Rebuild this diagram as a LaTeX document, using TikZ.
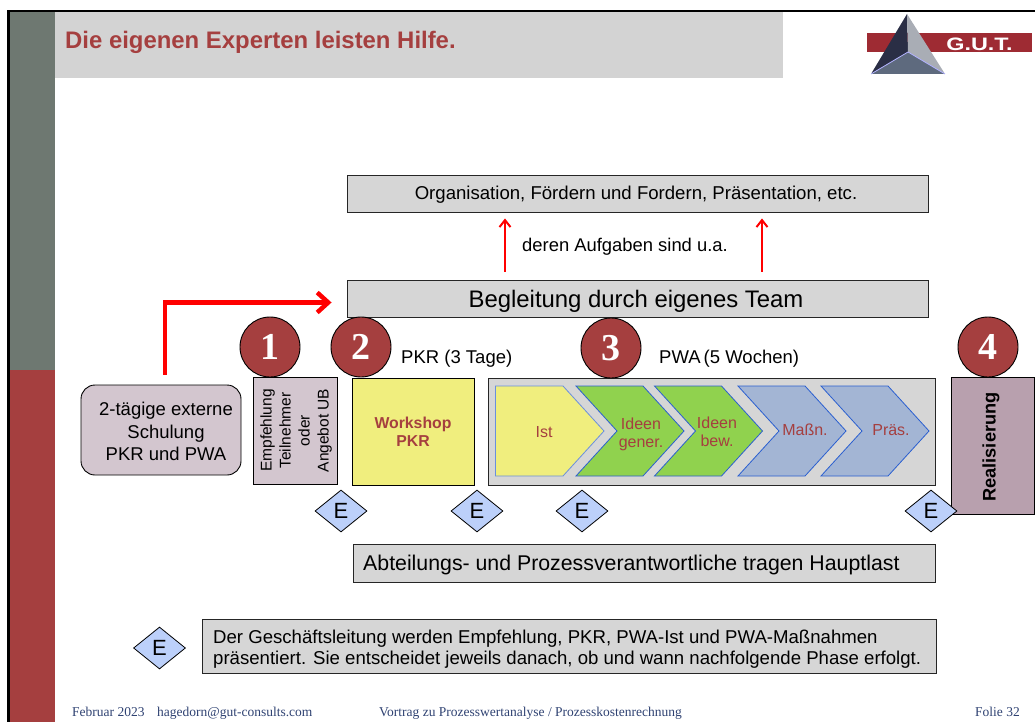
\documentclass[tikz,border=0pt]{standalone}
\usepackage{fontspec}
\setmainfont{Liberation Sans}
\newfontfamily\footfont{Liberation Serif}
\usetikzlibrary{arrows.meta,shapes.geometric}

\definecolor{gutred}{HTML}{A53F3F}
\definecolor{gutgrey}{HTML}{6E7871}
\definecolor{bandgrey}{HTML}{D3D3D3}
\definecolor{boxgrey}{HTML}{D6D6D6}
\definecolor{boxrose}{HTML}{D3C6CF}
\definecolor{boxmauve}{HTML}{B8A0AE}
\definecolor{boxyellow}{HTML}{F0EE7E}
\definecolor{stepgreen}{HTML}{90D24E}
\definecolor{stepblue}{HTML}{A3B5D4}
\definecolor{stepline}{HTML}{2A5FD0}
\definecolor{gateblue}{HTML}{BCD0FA}
\definecolor{footblue}{HTML}{2F4272}
\definecolor{logored}{HTML}{9E2B33}
\definecolor{logodark}{HTML}{2A2E45}
\definecolor{logolight}{HTML}{A9ADB5}
\definecolor{logoslate}{HTML}{5E6A7E}

\newcommand{\fs}[1]{\fontsize{#1}{#1}\selectfont}

\tikzset{
    greybox/.style={draw=black!85, line width=0.9pt, fill=boxgrey, inner sep=0pt},
    gate/.style={diamond, draw=black, line width=0.8pt, fill=gateblue, minimum width=52pt,
        minimum height=42pt, inner sep=0pt, font=\fs{22}},
    numdot/.style={circle, draw=black, line width=0.9pt, fill=gutred, text=white,
        minimum size=60pt, inner sep=0pt, font=\footfont\bfseries\fs{38}},
    steplabel/.style={text=gutred, align=center, font=\fs{16}, inner sep=0pt},
    footer/.style={anchor=base west, text=footblue, inner sep=0pt, font=\footfont\fs{13.5}},
    bigarrow/.style={red, line width=4.5pt, -{Straight Barb[length=11pt,width=20pt]}},
    smallarrow/.style={red, line width=2pt, -{Straight Barb[length=7pt,width=11pt]}},
}

\begin{document}
\begin{tikzpicture}[x=1pt, y=-1pt]
    \useasboundingbox (0,0) rectangle (1035,722);

    % Slide frame
    \fill[gutgrey] (10,12) rectangle (55,370);
    \fill[gutred] (10,370) rectangle (55,722);
    \fill[bandgrey] (55,12.5) rectangle (783,78);
    \draw[black, line width=2.6pt] (8.5,722) -- (8.5,11.2) -- (1035,11.2);
    \node[anchor=base west, text=gutred, inner sep=0pt, font=\bfseries\fs{23.9}] (title) at (65,49)
        {Die eigenen Experten leisten Hilfe.};

    % Logo
    \fill[logored] (867,33) rectangle (1032,52);
    \fill[logodark] (907,14) -- (908,52) -- (871,74) -- cycle;
    \fill[logolight] (907,14) -- (908,52) -- (945,74) -- cycle;
    \fill[logoslate] (871,74) -- (908,52) -- (945,74) -- cycle;
    \draw[white!70!blue, line width=0.8pt] (871,74) -- (908,52) -- (945,74);
    \node[text=white, inner sep=0pt, xscale=1.3, font=\bfseries\fs{18}] (logotext) at (979.5,44) {G.U.T.};

    % Team boxes
    \node[greybox, minimum width=581pt, minimum height=37pt] (org) at (637.5,193.5) {};
    \node[inner sep=0pt, font=\fs{18.6}] (orgtext) at (636,195)
        {Organisation, Fördern und Fordern, Präsentation, etc.};
    \node[greybox, minimum width=581pt, minimum height=37pt] (team) at (637.5,298.5) {};
    \node[inner sep=0pt, font=\fs{23.9}] (teamtext) at (636,301) {Begleitung durch eigenes Team};
    \node[inner sep=0pt, font=\fs{18.4}] (aufgaben) at (625,247) {deren Aufgaben sind u.a.};
    \coordinate (upleft) at (505,0);
    \coordinate (upright) at (762,0);
    \draw[smallarrow, shorten <=8pt, shorten >=6pt] (upleft |- team.north) -- (upleft |- org.south);
    \draw[smallarrow, shorten <=8pt, shorten >=6pt] (upright |- team.north) -- (upright |- org.south);

    % Phases
    \node[draw=black, line width=0.9pt, fill=boxrose, rounded corners=14pt, minimum width=160pt,
        minimum height=90pt, inner sep=0pt] (schulung) at (161,430) {};
    \node[align=center, inner sep=0pt, font=\fs{18.5}] (schulungtext) at (166,431.5)
        {2-tägige externe\\[4pt]Schulung\\[4pt]PKR und PWA};
    \node[draw=black, line width=0.9pt, fill=boxrose, minimum width=84pt, minimum height=107pt,
        inner sep=0pt] (empf) at (295,430.5) {};
    \node[rotate=90, align=center, inner sep=0pt, font=\fs{15.5}] (empftext) at (296,430.5)
        {Empfehlung\\[3.5pt]Teilnehmer\\[3.5pt]oder\\[3.5pt]Angebot UB};
    \node[draw=black, line width=0.9pt, fill=boxyellow, minimum width=122pt, minimum height=107pt,
        inner sep=0pt, align=center, text=gutred, font=\bfseries\fs{15.8}] (workshop) at (413,431.5)
        {Workshop\\[2pt]PKR};
    \node[greybox, minimum width=447pt, minimum height=107pt] (pwa) at (711.5,431.5) {};
    \node[draw=black, line width=0.9pt, fill=boxmauve, minimum width=83pt, minimum height=137pt,
        inner sep=0pt] (real) at (992.5,445.5) {};
    \node[rotate=90, inner sep=0pt, font=\bfseries\fs{18.2}] (realtext) at (991,447) {Realisierung};

    \node[anchor=west, inner sep=0pt, font=\fs{18.5}] (pkrlabel) at (401,359) {PKR (3 Tage)};
    \node[anchor=west, inner sep=0pt, font=\fs{18.5}] (pwalabel) at (659,359) {PWA\,(5 Wochen)};

    % PWA steps
    \draw[stepline!70!white, line width=0.8pt, fill=boxyellow] (495.5,386) -- (563,386) -- (604,431) -- (563,476) -- (495.5,476) -- cycle;
    \foreach \sx/\scol in {576/stepgreen, 654.5/stepgreen, 738/stepblue, 821/stepblue}
        \draw[stepline, line width=0.8pt, fill=\scol] (\sx,386) -- (\sx+67,386) -- (\sx+108,431)
            -- (\sx+67,476) -- (\sx,476) -- (\sx+41,431) -- cycle;
    \node[steplabel] (ist) at (544,432) {Ist};
    \node[steplabel] (gener) at (641,434) {Ideen\\[2pt]gener.};
    \node[steplabel] (bew) at (717,432) {Ideen\\[2pt]bew.};
    \node[steplabel] (mass) at (805,430) {Maßn.};
    \node[steplabel] (praes) at (891,430) {Präs.};

    % Numbers
    \foreach \n/\nx/\ny in {1/270/347, 2/361/347, 3/611/348, 4/988/347}
        \node[numdot] (num\n) at (\nx,\ny) {\n};

    % Decision points
    \foreach \g/\gx/\gy in {a/341/511, b/477/511, c/582/511, d/931/511, e/159.5/648}
        \node[gate] (gate\g) at (\gx,\gy) {E};

    % Lower boxes
    \node[greybox, minimum width=582pt, minimum height=38pt] (last) at (644,563) {};
    \node[anchor=west, inner sep=0pt, font=\fs{21.3}] (lasttext) at (363,565)
        {Abteilungs- und Prozessverantwortliche tragen Hauptlast};
    \node[greybox, minimum width=734pt, minimum height=54pt] (legend) at (569,646) {};
    \node[anchor=west, align=left, inner sep=0pt, font=\fs{18.6}] (legendtext) at (213,649)
        {Der Geschäftsleitung werden Empfehlung, PKR, PWA-Ist und PWA-Maßnahmen\\[2pt]
         präsentiert. Sie entscheidet jeweils danach, ob und wann nachfolgende Phase erfolgt.};

    % Red arrow
    \draw[bigarrow, shorten <=10pt, shorten >=15pt] ([xshift=4pt]schulung.north) |- ([yshift=-4pt]team.west);

    % Footer
    \node[footer] (footdate) at (72,716) {Februar 2023};
    \node[footer] (footmail) at (157,716) {hagedorn@gut-consults.com};
    \node[footer] (foottalk) at (379,716) {Vortrag zu Prozesswertanalyse / Prozesskostenrechnung};
    \node[footer] (footpage) at (975,716) {Folie 32};
\end{tikzpicture}
\end{document}
